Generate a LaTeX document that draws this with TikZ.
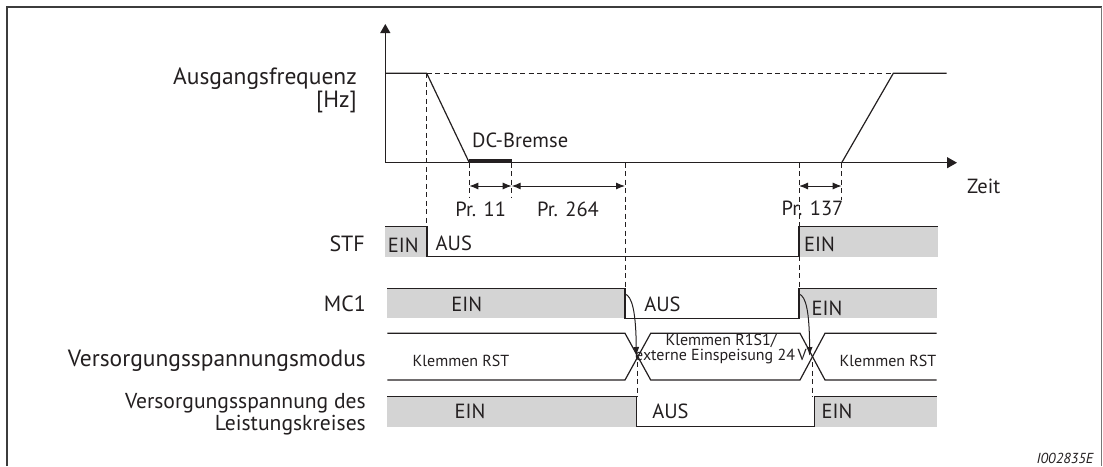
\documentclass[tikz,border=0pt]{standalone}
\usepackage{fontspec}
\setmainfont{PT Sans}
\usetikzlibrary{arrows.meta}
\definecolor{sig}{RGB}{212,212,212}
\definecolor{ln}{RGB}{35,31,32}
\definecolor{frm}{RGB}{60,60,60}
\begin{document}
\begin{tikzpicture}[x=1pt,y=-1pt,
  wave/.style={draw=ln, line width=1.2pt, line join=miter},
  dsh/.style={draw=ln, line width=0.9pt, dash pattern=on 5pt off 3.5pt},
  lbl/.style={font=\fontsize{23.5}{20}\selectfont, inner sep=0pt, text=ln},
  val/.style={font=\fontsize{20.5}{20}\selectfont, inner sep=0pt, text=ln},
  sml/.style={font=\fontsize{16}{15.5}\selectfont, inner sep=0pt, text=ln},
  dimarrow/.style={draw=ln, line width=1pt, {Latex[length=9pt,width=7pt]}-{Latex[length=9pt,width=7pt]}},
  cur/.style={draw=ln, line width=1pt, -{Latex[length=9pt,width=6pt]}}
]
\useasboundingbox (0,0) rectangle (1103,466);
% frame
\draw[frm, line width=1.8pt] (7,466) -- (7,7.3) -- (1101.7,7.3);
\draw[frm!70, line width=1pt] (1101.7,7.3) -- (1101.7,466);

% key coordinates
\coordinate (O) at (385.3,162.7);
\coordinate (Ytip) at (385.3,24);
\coordinate (Xtip) at (957,162.7);
\coordinate (f0) at (385.3,73.3);
\coordinate (rs) at (426.7,73.3);
\coordinate (re) at (469.3,162.7);
\coordinate (db) at (511.7,162.7);
\coordinate (us) at (841.7,162.7);
\coordinate (ue) at (893.3,73.3);
\coordinate (f1) at (946.7,73.3);

% gray fills
\fill[sig] (385.3,226.7) rectangle (427,256.7);
\fill[sig] (799,226.7) rectangle (938.3,256.7);
\fill[sig] (387.3,288.7) rectangle (625,318.3);
\fill[sig] (799,288.7) rectangle (936.7,318.3);
\fill[sig] (387.3,396.7) rectangle (636.7,426.5);
\fill[sig] (814.3,396.7) rectangle (936.7,426.5);

% dashed guides
\draw[dsh] (rs) -- (ue);
\draw[dsh] (rs) -- (426.7,226.7);
\draw[dsh] (re) -- (469.3,197);
\draw[dsh] (db) -- (511.7,197);
\draw[dsh] (625,162.7) -- (625,288.7);
\draw[dsh] (799,162.7) -- (799,288.7);
\draw[dsh] (us) -- (841.7,200);
\draw[dsh] (637.5,362) -- (637.5,396.7);
\draw[dsh] (812.7,362) -- (812.7,396.7);

% axes
\draw[wave, -{Triangle[length=9pt,width=10pt]}] (O) -- (Ytip);
\draw[wave, -{Triangle[length=10pt,width=11pt]}] (O) -- (Xtip);

% frequency curve
\draw[wave] (f0) -- (rs) -- (re);
\draw[draw=ln, line width=4pt] (469.3,160.7) -- (511.7,160.7);
\draw[wave] (us) -- (ue) -- (f1);

% dimension arrows
\draw[dimarrow] (469.3,186) -- (511.7,186);
\draw[dimarrow] (511.7,186) -- (625,186);
\draw[dimarrow] (799,186) -- (841.7,186);

% STF
\draw[wave] (385.3,226.7) -- (427,226.7) -- (427,256.7) -- (799,256.7) -- (799,226.7) -- (938.3,226.7);
% MC1
\draw[wave] (387.3,288.7) -- (625,288.7) -- (625,318.3) -- (799,318.3) -- (799,288.7) -- (936.7,288.7);
% mode bus
\draw[wave] (387.3,333.3) -- (625,333.3) -- (650.7,380) -- (800,380) -- (825,333.3) -- (936.7,333.3);
\draw[wave] (387.3,380) -- (625,380) -- (650.7,333.3) -- (800,333.3) -- (825,380) -- (936.7,380);
% power
\draw[wave] (387.3,396.7) -- (636.7,396.7) -- (636.7,426.5) -- (814.3,426.5) -- (814.3,396.7) -- (936.7,396.7);

% curved arrows
\draw[cur] (625,294) .. controls (632,296) and (636,312) .. (636.3,356);
\draw[cur] (799,294) .. controls (806,296) and (809.5,312) .. (809.6,356);

% labels
\node[lbl, anchor=east, align=right] (lfreq) at (357,90.5) {Ausgangsfrequenz\\{}[Hz]};
\node[val, anchor=west] (ldc) at (472,140) {DC-Bremse};
\node[val, anchor=west] (lzeit) at (967,186.7) {Zeit};
\node[val] (lp11) at (480.7,209) {Pr. 11};
\node[val] (lp264) at (568,209) {Pr. 264};
\node[val] (lp137) at (812.5,208.3) {Pr. 137};

\node[lbl, font=\fontsize{22}{20}\selectfont, anchor=east] (lstf) at (365,244) {STF};
\node[lbl, font=\fontsize{22}{20}\selectfont, anchor=east] (lmc) at (366,304) {MC1};
\node[lbl, anchor=east] (lmode) at (366,360.7) {Versorgungsspannungsmodus};
\node[lbl, anchor=east, align=right, font=\fontsize{21.6}{22.5}\selectfont] (lpow) at (366,414) {Versorgungsspannung des\\Leistungskreises};

\node[val] (s1) at (403.3,245) {EIN};
\node[val, anchor=west] (s2) at (435.5,243) {AUS};
\node[val, anchor=west] (s3) at (804,244.3) {EIN};

\node[val] (m1) at (466.7,304) {EIN};
\node[val] (m2) at (662.5,304) {AUS};
\node[val] (m3) at (827,308.3) {EIN};

\node[sml] (k1) at (461,360.7) {Klemmen RST};
\node[sml, align=center] (k2) at (721,349) {Klemmen R1S1/\\externe Einspeisung 24\,V};
\node[sml] (k3) at (888,360.7) {Klemmen RST};

\node[val] (p1) at (470,411.5) {EIN};
\node[val] (p2) at (670.5,411.7) {AUS};
\node[val] (p3) at (837,411.7) {EIN};

\node[sml, font=\fontsize{14.5}{16}\selectfont\itshape] (ref) at (1065,458.3) {I002835E};
\end{tikzpicture}
\end{document}
